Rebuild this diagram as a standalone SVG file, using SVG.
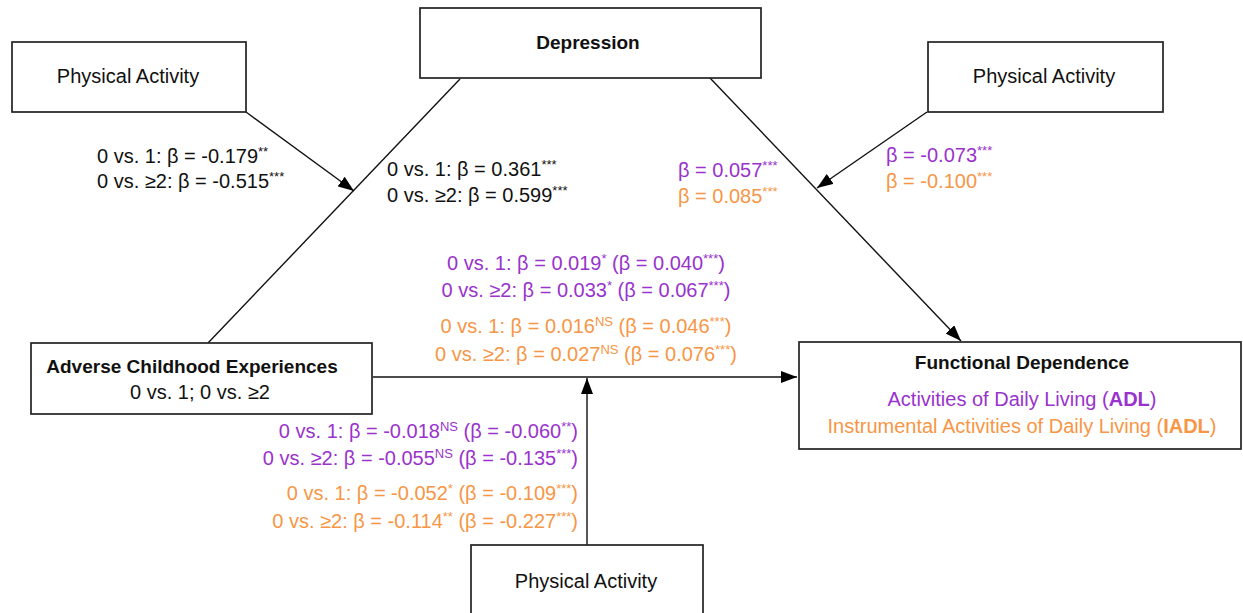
<svg xmlns="http://www.w3.org/2000/svg" width="1243" height="613" viewBox="0 0 1243 613">
<style>
text{font-family:"Liberation Sans",Arial,sans-serif;font-size:20px;fill:#111}
.b{font-weight:bold;font-size:19px}
.p{fill:#9933CC}
.o{fill:#F79646}
.s{font-size:13px}
.box{fill:#fff;stroke:#222;stroke-width:1.7}
.ln{stroke:#111;stroke-width:1.4;fill:none}
</style>
<defs>
<marker id="ah" viewBox="0 0 16 12" refX="16" refY="6" markerWidth="16" markerHeight="12" markerUnits="userSpaceOnUse" orient="auto">
<path d="M0,0 L16,6 L0,12 z" fill="#000"/>
</marker>
</defs>
<rect width="1243" height="613" fill="#fff"/>
<g id="connectors">
<line class="ln" x1="246" y1="112" x2="354" y2="191" marker-end="url(#ah)"/>
<line class="ln" x1="208" y1="343" x2="460" y2="79"/>
<line class="ln" x1="710" y1="78" x2="961" y2="341" marker-end="url(#ah)"/>
<line class="ln" x1="927" y1="112" x2="817" y2="188" marker-end="url(#ah)"/>
<line class="ln" x1="373" y1="377" x2="797" y2="377" marker-end="url(#ah)"/>
<line class="ln" x1="587" y1="545" x2="587" y2="378" marker-end="url(#ah)"/>
</g>
<g id="pa-left">
<rect class="box" x="12" y="42" width="234" height="70"/>
<text x="128" y="83" text-anchor="middle">Physical Activity</text>
</g>
<g id="depression">
<rect class="box" x="420" y="8" width="341" height="70"/>
<text class="b" x="588" y="49" text-anchor="middle">Depression</text>
</g>
<g id="pa-right">
<rect class="box" x="928" y="42" width="235" height="70"/>
<text x="1044" y="83" text-anchor="middle">Physical Activity</text>
</g>
<g id="ace">
<rect class="box" x="31" y="343" width="341" height="71"/>
<text class="b" x="192" y="373" text-anchor="middle">Adverse Childhood Experiences</text>
<text x="200" y="399" text-anchor="middle">0 vs. 1; 0 vs. ≥2</text>
</g>
<g id="fd">
<rect class="box" x="799" y="342" width="442" height="107"/>
<text class="b" x="1022" y="369" text-anchor="middle">Functional Dependence</text>
<text class="p" x="1022" y="406" text-anchor="middle">Activities of Daily Living (<tspan font-weight="bold">ADL</tspan>)</text>
<text class="o" x="1022" y="433" text-anchor="middle">Instrumental Activities of Daily Living (<tspan font-weight="bold">IADL</tspan>)</text>
</g>
<g id="pa-bottom">
<rect class="box" x="471" y="545" width="232" height="80"/>
<text x="586" y="588" text-anchor="middle">Physical Activity</text>
</g>
<g id="labels">
<text x="97" y="163">0 vs. 1: β = -0.179<tspan class="s" dy="-7">**</tspan></text>
<text x="97" y="188">0 vs. ≥2: β = -0.515<tspan class="s" dy="-7">***</tspan></text>
<text x="387" y="176">0 vs. 1: β = 0.361<tspan class="s" dy="-7">***</tspan></text>
<text x="387" y="202">0 vs. ≥2: β = 0.599<tspan class="s" dy="-7">***</tspan></text>
<text class="p" x="678" y="177">β = 0.057<tspan class="s" dy="-7">***</tspan></text>
<text class="o" x="678" y="203">β = 0.085<tspan class="s" dy="-7">***</tspan></text>
<text class="p" x="886" y="162">β = -0.073<tspan class="s" dy="-7">***</tspan></text>
<text class="o" x="886" y="188">β = -0.100<tspan class="s" dy="-7">***</tspan></text>
<text class="p" x="586" y="270" text-anchor="middle">0 vs. 1: β = 0.019<tspan class="s" dy="-7">*</tspan><tspan dy="7"> (β = 0.040</tspan><tspan class="s" dy="-7">***</tspan><tspan dy="7">)</tspan></text>
<text class="p" x="586" y="297" text-anchor="middle">0 vs. ≥2: β = 0.033<tspan class="s" dy="-7">*</tspan><tspan dy="7"> (β = 0.067</tspan><tspan class="s" dy="-7">***</tspan><tspan dy="7">)</tspan></text>
<text class="o" x="586" y="333" text-anchor="middle">0 vs. 1: β = 0.016<tspan class="s" dy="-7">NS</tspan><tspan dy="7"> (β = 0.046</tspan><tspan class="s" dy="-7">***</tspan><tspan dy="7">)</tspan></text>
<text class="o" x="586" y="361" text-anchor="middle">0 vs. ≥2: β = 0.027<tspan class="s" dy="-7">NS</tspan><tspan dy="7"> (β = 0.076</tspan><tspan class="s" dy="-7">***</tspan><tspan dy="7">)</tspan></text>
<text class="p" x="578" y="438" text-anchor="end">0 vs. 1: β = -0.018<tspan class="s" dy="-7">NS</tspan><tspan dy="7"> (β = -0.060</tspan><tspan class="s" dy="-7">**</tspan><tspan dy="7">)</tspan></text>
<text class="p" x="578" y="465" text-anchor="end">0 vs. ≥2: β = -0.055<tspan class="s" dy="-7">NS</tspan><tspan dy="7"> (β = -0.135</tspan><tspan class="s" dy="-7">***</tspan><tspan dy="7">)</tspan></text>
<text class="o" x="578" y="500" text-anchor="end">0 vs. 1: β = -0.052<tspan class="s" dy="-7">*</tspan><tspan dy="7"> (β = -0.109</tspan><tspan class="s" dy="-7">***</tspan><tspan dy="7">)</tspan></text>
<text class="o" x="578" y="528" text-anchor="end">0 vs. ≥2: β = -0.114<tspan class="s" dy="-7">**</tspan><tspan dy="7"> (β = -0.227</tspan><tspan class="s" dy="-7">***</tspan><tspan dy="7">)</tspan></text>
</g>
</svg>
